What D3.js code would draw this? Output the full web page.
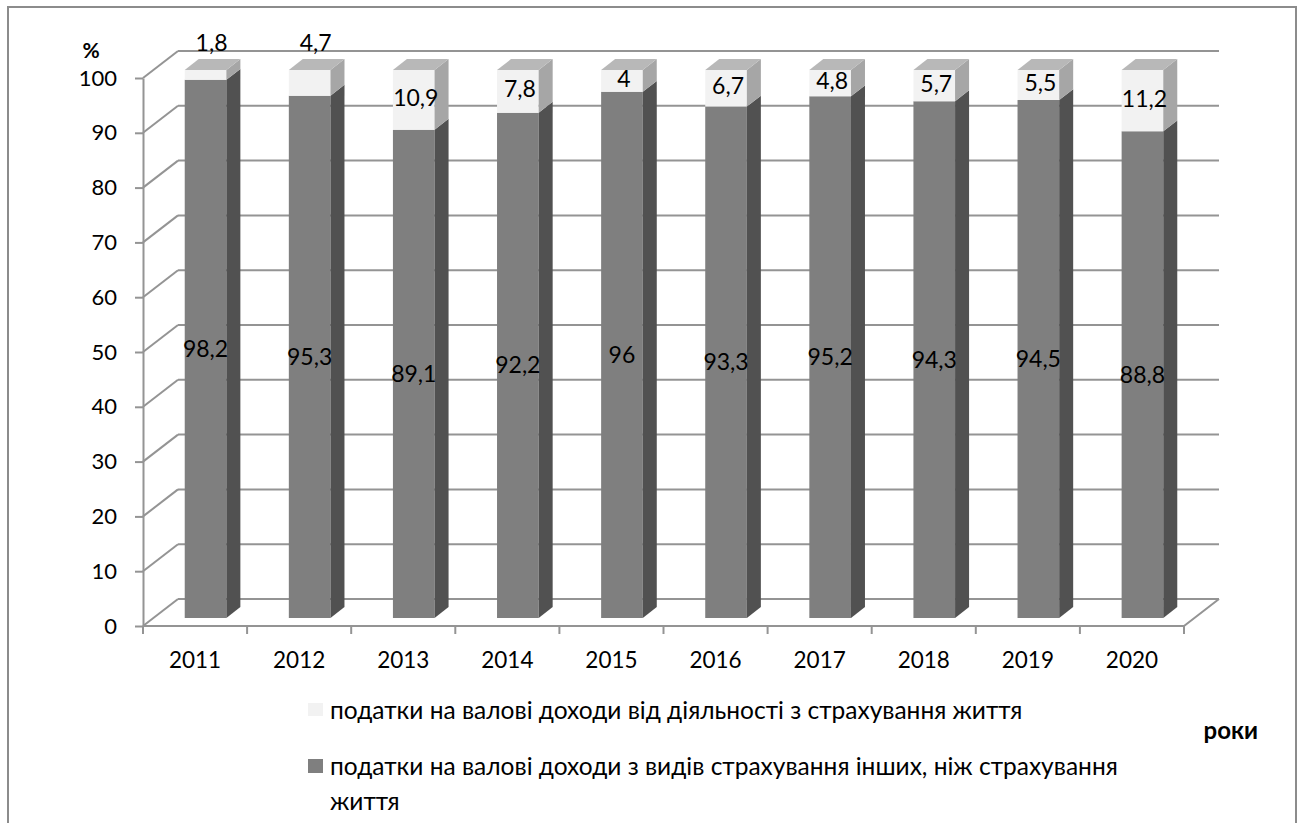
<!DOCTYPE html>
<html>
<head>
<meta charset="utf-8">
<script src="https://cdn.jsdelivr.net/npm/d3@7"></script>
<style>
  body { margin: 0; background: #fff; }
  svg { display: block; }
  text { font-family: Lato, "Open Sans", sans-serif; fill: #000; }
</style>
</head>
<body>
<svg id="chart" width="1301" height="823"></svg>
<script>
// Структура податків на валові доходи страховиків, %
const years = ["2011", "2012", "2013", "2014", "2015", "2016", "2017", "2018", "2019", "2020"];
const otherShare = [98.2, 95.3, 89.1, 92.2, 96, 93.3, 95.2, 94.3, 94.5, 88.8];
const lifeShare = [1.8, 4.7, 10.9, 7.8, 4, 6.7, 4.8, 5.7, 5.5, 11.2];
const yTicks = [0, 10, 20, 30, 40, 50, 60, 70, 80, 90, 100];
const lifeName = "податки на валові доходи від діяльності з страхування життя";
const otherNameLines = ["податки на валові доходи з видів страхування інших, ніж страхування", "життя"];
const yTitle = "%";
const xTitle = "роки";
// years whose life-insurance label sits above the column
const lifeLabelAbove = ["2011", "2012"];

const colors = {
  otherFront: "#7f7f7f", otherSide: "#515151",
  lifeFront: "#f2f2f2", lifeSide: "#a6a6a6", top: "#b8b8b8",
  grid: "#949494", border: "#8c8c8c"
};
const labelSize = "23px";
const tickSize = "22px";

const svg = d3.select("#chart");
const uk = d3.formatLocale({ decimal: ",", thousands: " ", grouping: [3], currency: ["", ""] });
const fmt = uk.format(".1~f");

// Scales on the front plane
const x = d3.scaleBand().domain(years).range([143, 1184]).padding(0);
const y = d3.scaleLinear().domain([0, 100]).range([626, 78]);

// Oblique depth of the 3D box
const D = { dx: 35, dy: -27 };
const tFront = 0.3, tBack = 0.7, widthFrac = 0.4;
const P = (px, v, t) => [px + t * D.dx, y(v) + t * D.dy];
const poly = pts => "M" + pts.map(p => p.join(",")).join("L") + "Z";

// Outer frame
svg.append("rect")
  .attr("x", 8).attr("y", 7).attr("width", 1288).attr("height", 840)
  .attr("fill", "none").attr("stroke", colors.border).attr("stroke-width", 2);

// Walls: back-wall gridlines and side-wall diagonals
const [x0, x1] = x.range();
const walls = svg.append("g").attr("stroke", colors.grid).attr("stroke-width", 2).attr("fill", "none");
yTicks.forEach(v => {
  walls.append("path").attr("d", "M" + P(x0, v, 1).join(",") + "L" + P(x1, v, 1).join(","));
  walls.append("path").attr("d", "M" + P(x0, v, 0).join(",") + "L" + P(x0, v, 1).join(","));
});
// Floor front and right edges
walls.append("path").attr("d", "M" + P(x0, 0, 0).join(",") + "L" + P(x1, 0, 0).join(",") + "L" + P(x1, 0, 1).join(","));

// Columns
const bars = svg.append("g");
years.forEach((yr, i) => {
  const bw = x.bandwidth() * widthFrac;
  const l = x(yr) + (x.bandwidth() - bw) / 2;
  const r = l + bw;
  const segs = [
    { v0: 0, v1: otherShare[i], front: colors.otherFront, side: colors.otherSide },
    { v0: otherShare[i], v1: otherShare[i] + lifeShare[i], front: colors.lifeFront, side: colors.lifeSide }
  ];
  segs.forEach(s => {
    bars.append("path").attr("fill", s.front)
      .attr("d", poly([P(l, s.v1, tFront), P(r, s.v1, tFront), P(r, s.v0, tFront), P(l, s.v0, tFront)]));
    bars.append("path").attr("fill", s.side)
      .attr("d", poly([P(r, s.v1, tFront), P(r, s.v1, tBack), P(r, s.v0, tBack), P(r, s.v0, tFront)]));
  });
  const top = otherShare[i] + lifeShare[i];
  bars.append("path").attr("fill", colors.top)
    .attr("d", poly([P(l, top, tFront), P(l, top, tBack), P(r, top, tBack), P(r, top, tFront)]));

  // Data labels
  const cx = (l + r) / 2 + tFront * D.dx;
  const lo = P((l + r) / 2, otherShare[i] / 2, tFront);
  bars.append("text").attr("x", lo[0]).attr("y", lo[1]).attr("dy", "0.35em")
    .attr("text-anchor", "middle").style("font-size", labelSize).text(fmt(otherShare[i]));
  let hi;
  if (lifeLabelAbove.includes(yr)) {
    hi = [cx + 6, y(top) - 35];
  } else {
    hi = P((l + r) / 2, otherShare[i] + lifeShare[i] / 2, tFront);
    hi = [hi[0] + 2, hi[1] - 2];
  }
  bars.append("text").attr("x", hi[0]).attr("y", hi[1]).attr("dy", "0.35em")
    .attr("text-anchor", "middle").style("font-size", labelSize).text(fmt(lifeShare[i]));
});

// Value axis on the front plane
const yAxis = svg.append("g").attr("transform", `translate(${x0},0)`)
  .call(d3.axisLeft(y).tickValues(yTicks).tickSize(8).tickSizeOuter(0).tickPadding(18).tickFormat(d => d));
yAxis.select(".domain").attr("stroke", colors.grid).attr("stroke-width", 2);
yAxis.selectAll(".tick line").attr("stroke", colors.grid).attr("stroke-width", 2);
yAxis.selectAll(".tick text").style("font-size", tickSize).style("font-family", "Lato, 'Open Sans', sans-serif").attr("fill", "#000");

// Category axis
const xAxis = svg.append("g").attr("transform", `translate(0,${y(0)})`)
  .call(d3.axisBottom(x).tickSize(0).tickPadding(26));
xAxis.select(".domain").remove();
xAxis.selectAll(".tick text").style("font-size", "22.5px").style("font-family", "Lato, 'Open Sans', sans-serif").attr("fill", "#000");
const bounds = years.map(d => x(d)).concat([x1]);
svg.append("g").selectAll("line").data(bounds).join("line")
  .attr("x1", d => d).attr("x2", d => d)
  .attr("y1", y(0)).attr("y2", y(0) + 8)
  .attr("stroke", colors.grid).attr("stroke-width", 2);

// Axis titles
svg.append("text").attr("x", 91).attr("y", 51).attr("dy", "0.35em").attr("text-anchor", "middle")
  .style("font-size", "21px").style("font-weight", "bold").text(yTitle);
svg.append("text").attr("x", 1258).attr("y", 731).attr("dy", "0.35em").attr("text-anchor", "end")
  .style("font-size", "24px").style("font-weight", "bold").text(xTitle);

// Legend
const legend = svg.append("g");
legend.append("rect").attr("x", 308).attr("y", 703).attr("width", 15).attr("height", 13).attr("fill", colors.lifeFront);
legend.append("text").attr("x", 330).attr("y", 719).style("font-size", "24.5px").text(lifeName);
legend.append("rect").attr("x", 308).attr("y", 759).attr("width", 15).attr("height", 14).attr("fill", colors.otherFront);
const t2 = legend.append("text").attr("x", 330).attr("y", 775).style("font-size", "24.5px");
otherNameLines.forEach((s, k) => t2.append("tspan").attr("x", 330).attr("dy", k ? 35 : 0).text(s));
</script>
</body>
</html>
